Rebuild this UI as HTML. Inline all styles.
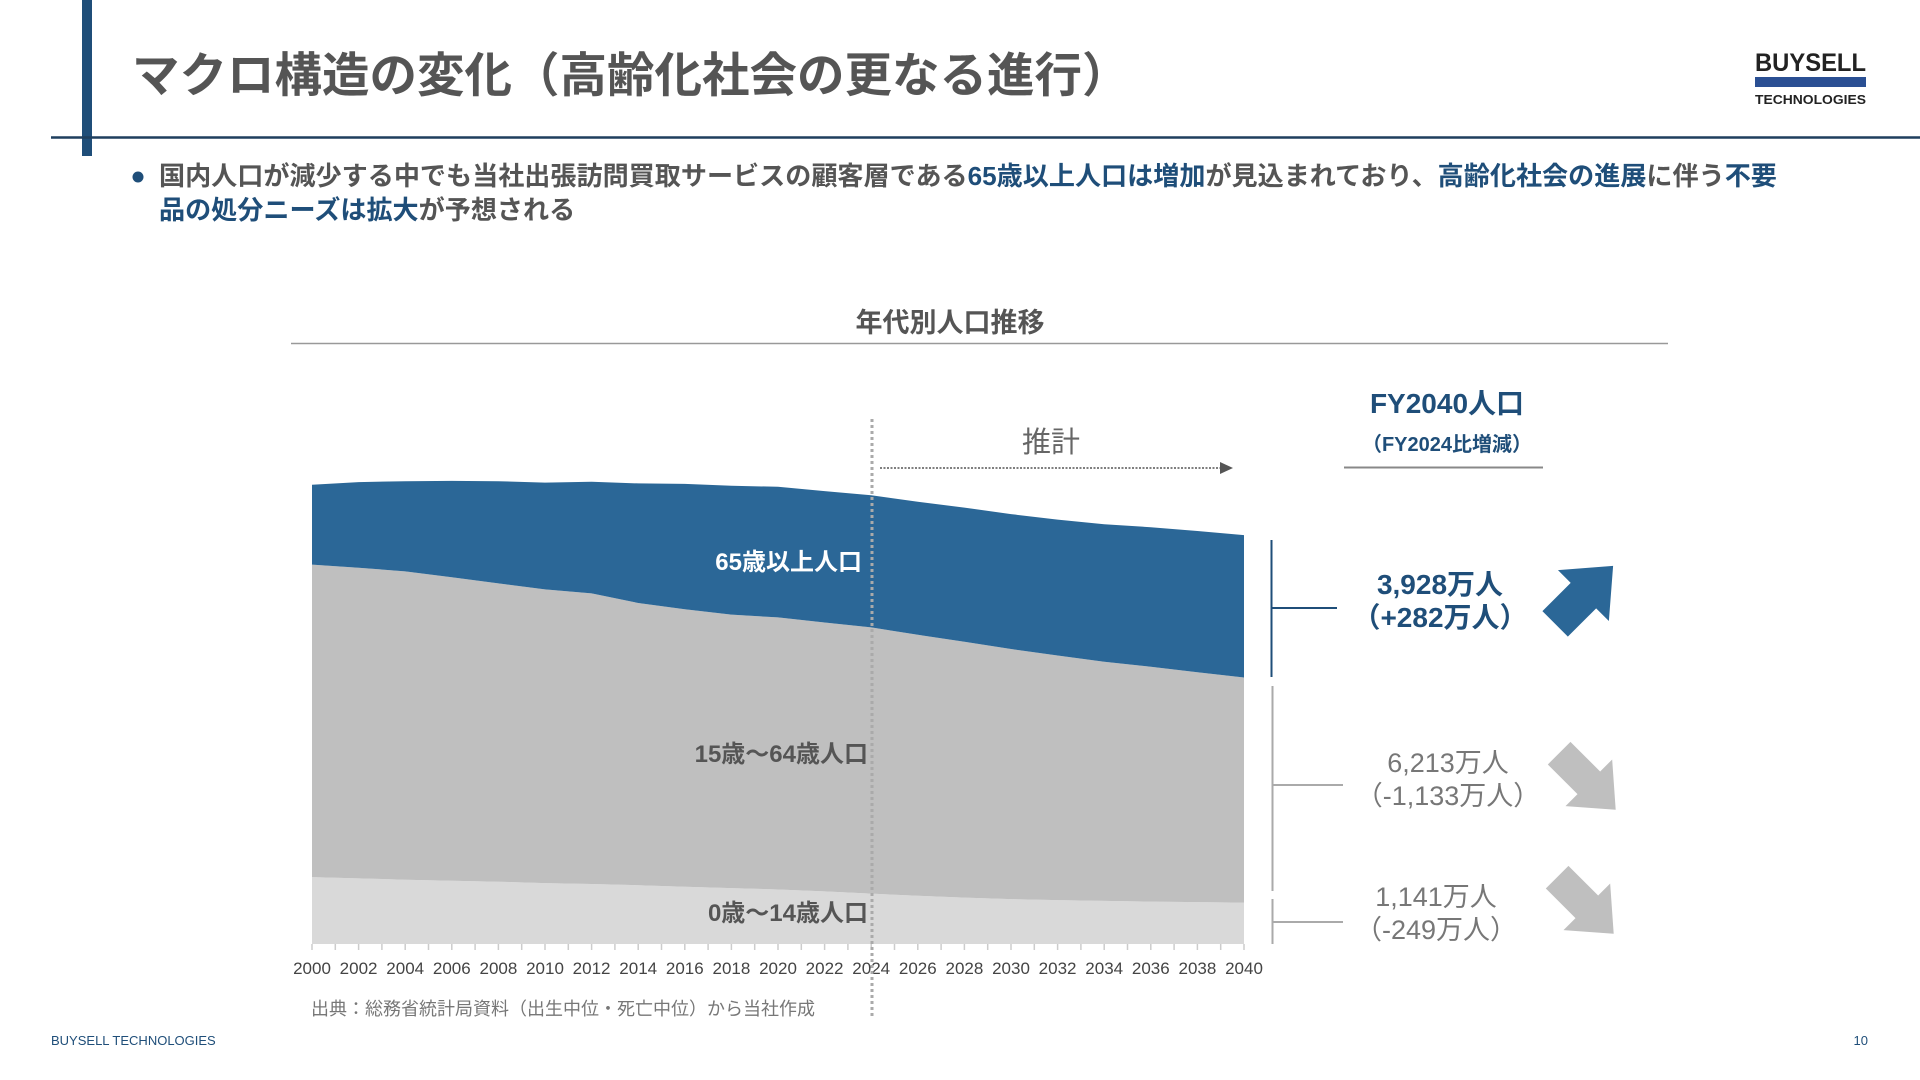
<!DOCTYPE html>
<html lang="ja"><head><meta charset="utf-8"><title>マクロ構造の変化</title>
<style>
html,body{margin:0;padding:0;background:#fff;}
body{width:1920px;height:1080px;overflow:hidden;position:relative;font-family:"Liberation Sans","Noto Sans CJK JP",sans-serif;}
svg{position:absolute;left:0;top:0;}
text{font-family:"Liberation Sans","Noto Sans CJK JP",sans-serif;}
</style></head>
<body>
<svg id="s" width="1920" height="1080" viewBox="0 0 1920 1080">
  <rect x="82" y="0" width="10" height="156" fill="#1f4e79"/>
  <line x1="51" y1="137.5" x2="1920" y2="137.5" stroke="#1f3f5e" stroke-width="2.5"/>
  <text x="132" y="92" font-size="47.5" font-weight="bold" fill="#555">マクロ構造の変化（高齢化社会の更なる進行）</text>
  <g>
    <text x="1755" y="71" font-size="25" font-weight="bold" fill="#222" textLength="111" lengthAdjust="spacingAndGlyphs">BUYSELL</text>
    <rect x="1755" y="77" width="111" height="10" fill="#2a4f93"/>
    <text x="1755" y="104" font-size="13" font-weight="bold" fill="#222" textLength="111" lengthAdjust="spacingAndGlyphs">TECHNOLOGIES</text>
  </g>
  <circle cx="138" cy="177" r="5.5" fill="#1f4e79"/>
  <text x="159" y="185" font-size="26.1" font-weight="bold" fill="#555">国内人口が減少する中でも当社出張訪問買取サービスの顧客層である<tspan fill="#1f4e79">65歳以上人口は増加</tspan>が見込まれており、<tspan fill="#1f4e79">高齢化社会の進展</tspan>に伴う<tspan fill="#1f4e79">不要</tspan></text>
  <text x="159" y="219" font-size="26.1" font-weight="bold" fill="#555"><tspan fill="#1f4e79">品の処分ニーズは拡大</tspan>が予想される</text>

  <text x="950" y="332" font-size="27" font-weight="bold" fill="#555" text-anchor="middle">年代別人口推移</text>
  <line x1="291" y1="343.5" x2="1668" y2="343.5" stroke="#999" stroke-width="1.5"/>

  <g id="areas"></g>
  <g id="ticks"></g>

  <line x1="872" y1="419" x2="872" y2="1016" stroke="#aaa" stroke-width="3" stroke-dasharray="3,3"/>
  <text x="1051" y="452" font-size="29" fill="#666" text-anchor="middle">推計</text>
  <line x1="880" y1="468" x2="1220" y2="468" stroke="#555" stroke-width="1.5" stroke-dasharray="2,1.5"/>
  <polygon points="1220,462 1233,468 1220,474" fill="#555"/>

  <text x="862" y="570" font-size="24" font-weight="bold" fill="#fff" text-anchor="end">65歳以上人口</text>
  <text x="868" y="762" font-size="24" font-weight="bold" fill="#555" text-anchor="end">15歳～64歳人口</text>
  <text x="868" y="921" font-size="24" font-weight="bold" fill="#555" text-anchor="end">0歳～14歳人口</text>

  <text x="1447" y="413" font-size="28" font-weight="bold" fill="#1f4e79" text-anchor="middle">FY2040人口</text>
  <text x="1447" y="451" font-size="20" font-weight="bold" fill="#1f4e79" text-anchor="middle">（FY2024比増減）</text>
  <line x1="1344" y1="467.5" x2="1543" y2="467.5" stroke="#888" stroke-width="2"/>

  <g>
    <line x1="1271.5" y1="540" x2="1271.5" y2="677" stroke="#1f4e79" stroke-width="2"/>
    <line x1="1271" y1="608" x2="1337" y2="608" stroke="#1f4e79" stroke-width="2"/>
  </g>
  <g>
    <line x1="1272.5" y1="686" x2="1272.5" y2="891" stroke="#aaa" stroke-width="2"/>
    <line x1="1272" y1="785" x2="1343" y2="785" stroke="#aaa" stroke-width="2"/>
  </g>
  <g>
    <line x1="1272.5" y1="899" x2="1272.5" y2="944" stroke="#aaa" stroke-width="2"/>
    <line x1="1272" y1="922" x2="1343" y2="922" stroke="#aaa" stroke-width="2"/>
  </g>

  <text x="1440" y="594" font-size="28" font-weight="bold" fill="#1f4e79" text-anchor="middle">3,928万人</text>
  <text x="1440" y="627" font-size="28" font-weight="bold" fill="#1f4e79" text-anchor="middle">（+282万人）</text>
  <text x="1448" y="772" font-size="27" fill="#777" text-anchor="middle">6,213万人</text>
  <text x="1448" y="805" font-size="27" fill="#777" text-anchor="middle">（-1,133万人）</text>
  <text x="1436" y="906" font-size="27" fill="#777" text-anchor="middle">1,141万人</text>
  <text x="1436" y="939" font-size="27" fill="#777" text-anchor="middle">（-249万人）</text>

  <polygon transform="translate(1582,597) rotate(-45)" points="-38,-18 2,-18 2,-36 44,0 2,36 2,18 -38,18" fill="#2b6797"/>
  <polygon transform="translate(1586,780) rotate(45)" points="-38,-16 4,-16 4,-33 42,0 4,33 4,16 -38,16" fill="#bfbfbf"/>
  <polygon transform="translate(1584,904) rotate(45)" points="-38,-16 4,-16 4,-33 42,0 4,33 4,16 -38,16" fill="#bfbfbf"/>

  <text x="311" y="1015" font-size="18" fill="#777">出典：総務省統計局資料（出生中位・死亡中位）から当社作成</text>
  <text x="51" y="1045" font-size="13" fill="#1f4e79">BUYSELL TECHNOLOGIES</text>
  <text x="1868" y="1045" font-size="13" fill="#1f4e79" text-anchor="end">10</text>
</svg>
<script>
const years = [2000,2002,2004,2006,2008,2010,2012,2014,2016,2018,2020,2022,2024,2026,2028,2030,2032,2034,2036,2038,2040];
const age0to14 = [1847,1810,1773,1744,1718,1680,1655,1623,1578,1542,1503,1450,1390,1330,1280,1240,1210,1190,1170,1155,1141];
const age15to64 = [8622,8571,8508,8373,8230,8103,8018,7785,7656,7545,7509,7421,7346,7200,7060,6900,6750,6600,6480,6340,6213];
const age65plus = [2204,2363,2488,2660,2822,2948,3079,3300,3459,3558,3603,3624,3646,3670,3700,3720,3750,3790,3850,3900,3928];
const yearTicks = [2000,2002,2004,2006,2008,2010,2012,2014,2016,2018,2020,2022,2024,2026,2028,2030,2032,2034,2036,2038,2040];

const X0 = 312, X1 = 1244, BASE = 944, PER_PX = 27.59;
function xs(y){ return X0 + (y - years[0]) / (years[years.length-1] - years[0]) * (X1 - X0); }
function ys(v){ return BASE - v / PER_PX; }
const NS = 'http://www.w3.org/2000/svg';
const areas = document.getElementById('areas');
function band(lower, upper, fill, name){
  let d = '';
  years.forEach((yr,i)=>{ d += (i?'L':'M') + xs(yr).toFixed(1) + ',' + ys(upper[i]).toFixed(1); });
  for(let i=years.length-1;i>=0;i--){ d += 'L' + xs(years[i]).toFixed(1) + ',' + ys(lower[i]).toFixed(1); }
  d += 'Z';
  const p = document.createElementNS(NS,'path');
  p.setAttribute('d', d);
  p.setAttribute('fill', fill);
  
  
  areas.appendChild(p);
}
const zero = years.map(()=>0);
const c1 = age0to14.slice();
const c2 = c1.map((v,i)=>v + age15to64[i]);
const c3 = c2.map((v,i)=>v + age65plus[i]);
band(zero, c1, '#d9d9d9', 'area-age-0-14');
band(c1, c2, '#bfbfbf', 'area-age-15-64');
band(c2, c3, '#2b6797', 'area-age-65-plus');

const ticks = document.getElementById('ticks');
for(let yr = years[0]; yr <= years[years.length-1]; yr++){
  const t = document.createElementNS(NS,'line');
  const x = xs(yr);
  t.setAttribute('x1', x); t.setAttribute('x2', x);
  t.setAttribute('y1', BASE); t.setAttribute('y2', BASE + 6);
  t.setAttribute('stroke', '#ccc'); t.setAttribute('stroke-width', '1.5');
  
  
  ticks.appendChild(t);
}
yearTicks.forEach(yr=>{
  const tx = document.createElementNS(NS,'text');
  tx.setAttribute('x', xs(yr));
  tx.setAttribute('y', 974);
  tx.setAttribute('font-size', '17');
  tx.setAttribute('fill', '#444');
  tx.setAttribute('text-anchor', 'middle');
  tx.textContent = yr;
  
  
  ticks.appendChild(tx);
});
</script>
</body></html>
